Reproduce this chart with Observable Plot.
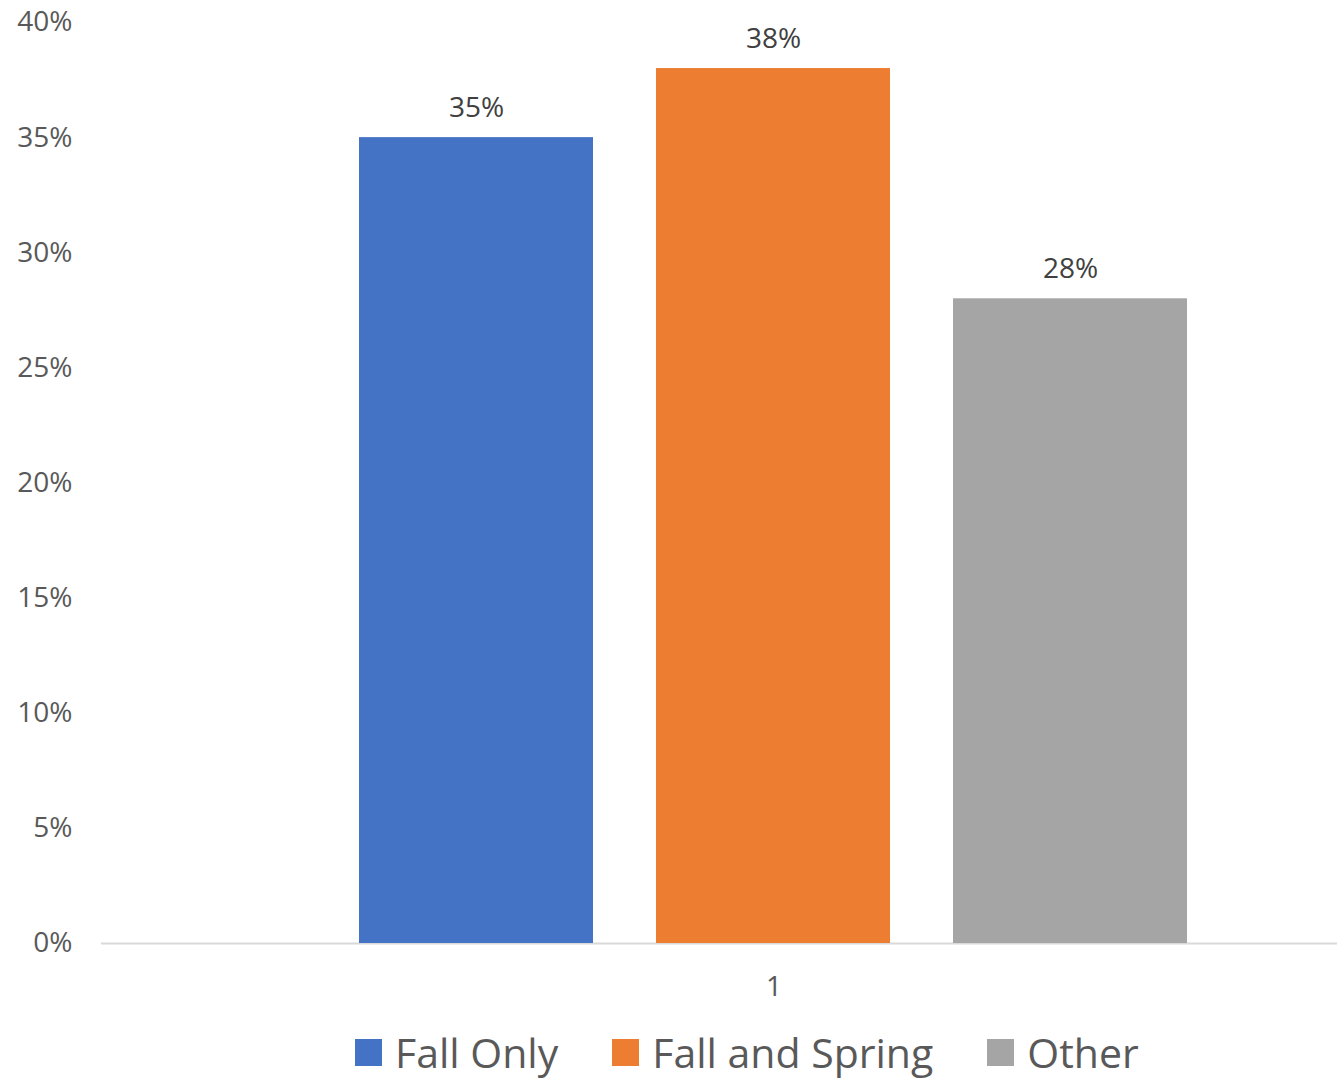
<!DOCTYPE html>
<html><head><meta charset="utf-8">
<script src="https://cdn.jsdelivr.net/npm/d3@7"></script>
<script src="https://cdn.jsdelivr.net/npm/@observablehq/plot@0.6"></script>
<style>
body{margin:0;background:#fff;font-family:"Open Sans",sans-serif;overflow:hidden;}
#chart svg{display:block;}
#legend{display:flex;align-items:center;margin-top:5px;margin-left:355px;font-size:41px;line-height:54px;color:#595959;white-space:nowrap;}
#legend .item{display:flex;align-items:center;margin-right:54px;}
#legend .sw{width:27px;height:27px;margin-right:13px;}
</style></head><body><div id="chart"></div><div id="legend"></div>
<script>
const categories = ["1"];
const series = ["Fall Only", "Fall and Spring", "Other"];
const values = [0.35, 0.38, 0.28];
const colors = ["#4472C4", "#ED7D31", "#A5A5A5"];
const yTicks = [0, 0.05, 0.10, 0.15, 0.20, 0.25, 0.30, 0.35, 0.40];

const data = series.map((s, i) => ({category: categories[0], series: s, value: values[i]}));
const pct = d3.format(".0%");

const chart = Plot.plot({
  width: 1337,
  height: 1020,
  marginTop: 22,
  marginBottom: 77,
  marginLeft: 101,
  marginRight: 0,
  style: {fontSize: "28px", fontFamily: "Open Sans, sans-serif", color: "#595959", background: "#fff"},
  fx: {domain: categories, range: [101, 1446], padding: 0, axis: "bottom", tickSize: 0, tickPadding: 33, label: null},
  x: {domain: series, range: [326.5, 1220.5], paddingInner: 0.211, paddingOuter: 0.106, axis: null},
  y: {domain: [0, 0.4], ticks: yTicks, tickFormat: pct, tickSize: 0, tickPadding: 29, label: null},
  color: {domain: series, range: colors},
  marks: [
    Plot.ruleY([0], {stroke: "#d9d9d9", strokeWidth: 2}),
    Plot.barY(data, {fx: "category", x: "series", y: "value", fill: "series"}),
    Plot.text(data, {fx: "category", x: "series", y: "value", text: d => pct(d.value), lineAnchor: "bottom", dy: -21, fill: "#404040", fontSize: 28})
  ]
});
document.getElementById("chart").appendChild(chart);

const legend = document.getElementById("legend");
series.forEach((s, i) => {
  const item = document.createElement("div");
  item.className = "item";
  const sw = document.createElement("span");
  sw.className = "sw";
  sw.style.background = colors[i];
  const t = document.createElement("span");
  t.textContent = s;
  item.appendChild(sw); item.appendChild(t);
  legend.appendChild(item);
});
</script>
</body></html>
